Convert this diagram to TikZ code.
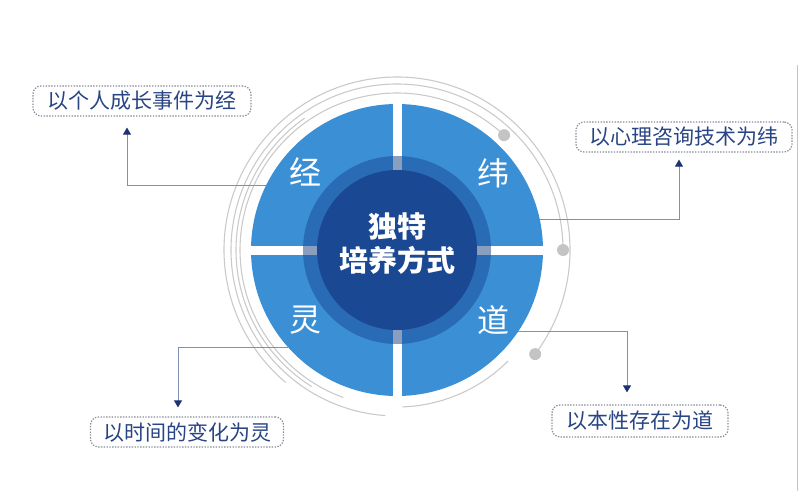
\documentclass[tikz,border=0pt]{standalone}
\usepackage{fontspec}
\newfontfamily\cjk{Noto Sans CJK SC}
\usetikzlibrary{arrows.meta}
\definecolor{sectorblue}{RGB}{58,143,213}
\definecolor{ringblue}{RGB}{42,107,182}
\definecolor{coreblue}{RGB}{26,72,146}
\definecolor{ringgap}{RGB}{138,158,192}
\definecolor{swirlgray}{RGB}{202,202,202}
\definecolor{dotgray}{RGB}{196,196,196}
\definecolor{linkgray}{RGB}{128,144,176}
\definecolor{tipblue}{RGB}{28,50,115}
\definecolor{boxtext}{RGB}{40,68,132}
\definecolor{boxline}{RGB}{135,140,152}
\definecolor{framegray}{RGB}{185,196,214}
\begin{document}
\begin{tikzpicture}
  [x=1pt,y=1pt,
   swirl/.style={draw=swirlgray,line width=1.1pt},
   knob/.style={circle,fill=dotgray,minimum size=12pt,inner sep=0pt},
   quarter/.style={text=white,font=\cjk\fontsize{32}{32}\selectfont},
   callout/.style={draw=boxline,dash pattern=on 1.4pt off 1.4pt,line width=1.2pt,rounded corners=8pt,
     minimum height=30pt,inner sep=0pt,text=boxtext,font=\cjk\fontsize{21}{21}\selectfont},
   link/.style={draw=linkgray,line width=1pt,-{Triangle[width=8pt,length=7pt,color=tipblue]}}]
  \useasboundingbox (0,0) rectangle (800,491);
  \coordinate (c) at (397,241);

  % rings round the disk
  \draw[swirl] (c) ++(47:157) arc[start angle=47,end angle=250,radius=157];
  \draw[swirl] (c) ++(0:166) arc[start angle=0,end angle=266,radius=166];
  \draw[swirl] (c) ++(-37:173) arc[start angle=-37,end angle=230,radius=173];
  \draw[swirl] (c) ++(-88:157) arc[start angle=-88,end angle=-45,radius=157];
  \draw[swirl] (c) ++(125:161) arc[start angle=125,end angle=238,radius=161];
  \node[knob] (k1) at ([shift={(47:157)}]c) {};
  \node[knob] (k2) at ([shift={(0:166)}]c) {};
  \node[knob] (k3) at ([shift={(-37:173)}]c) {};

  \node[circle,fill=sectorblue,minimum size=292pt,inner sep=0pt] (disk) at (c) {};
  \fill[white] ([yshift=-4.5pt]disk.west) rectangle ([yshift=4.5pt]disk.east);
  \fill[white] ([xshift=-4.5pt]disk.south) rectangle ([xshift=4.5pt]disk.north);
  \node[circle,fill=ringblue,minimum size=188pt,inner sep=0pt] (ring) at (c) {};
  \fill[ringgap] ([yshift=-4.5pt]ring.west) rectangle ([yshift=4.5pt]ring.east);
  \fill[ringgap] ([xshift=-4.5pt]ring.south) rectangle ([xshift=4.5pt]ring.north);
  \node[circle,fill=coreblue,minimum size=160pt,inner sep=0pt] (core) at (c) {};
  \node[text=white,align=center,font=\cjk\bfseries\fontsize{29}{34}\selectfont] (title) at ([yshift=6pt]c) {独特\\培养方式};

  \node[quarter] (jing) at (305,319) {经};
  \node[quarter] (wei) at (493,318) {纬};
  \node[quarter] (ling) at (305,171) {灵};
  \node[quarter] (dao) at (493,171) {道};

  \node[callout,minimum width=218pt] (b1) at (142,390) {以个人成长事件为经};
  \node[callout,minimum width=216pt] (b2) at (684,354) {以心理咨询技术为纬};
  \node[callout,minimum width=193pt] (b3) at (187,59) {以时间的变化为灵};
  \node[callout,minimum width=176pt,minimum height=32pt] (b4) at (640,70) {以本性存在为道};

  \coordinate (t1) at ([xshift=-15pt,yshift=-11pt]b1.south);
  \coordinate (t2) at ([xshift=-5pt,yshift=-7pt]b2.south);
  \coordinate (t3) at ([xshift=-9pt,yshift=9pt]b3.north);
  \coordinate (t4) at ([xshift=-13pt,yshift=12pt]b4.north);

  \draw[link] (disk.154) -| (t1);
  \draw[link] (disk.12) -| (t2);
  \draw[link] (disk.222) -| (t3);
  \draw[link] (disk.-34) -| (t4);

  \draw[framegray,line width=1.5pt] (797.5,0) -- (797.5,426);
\end{tikzpicture}
\end{document}
